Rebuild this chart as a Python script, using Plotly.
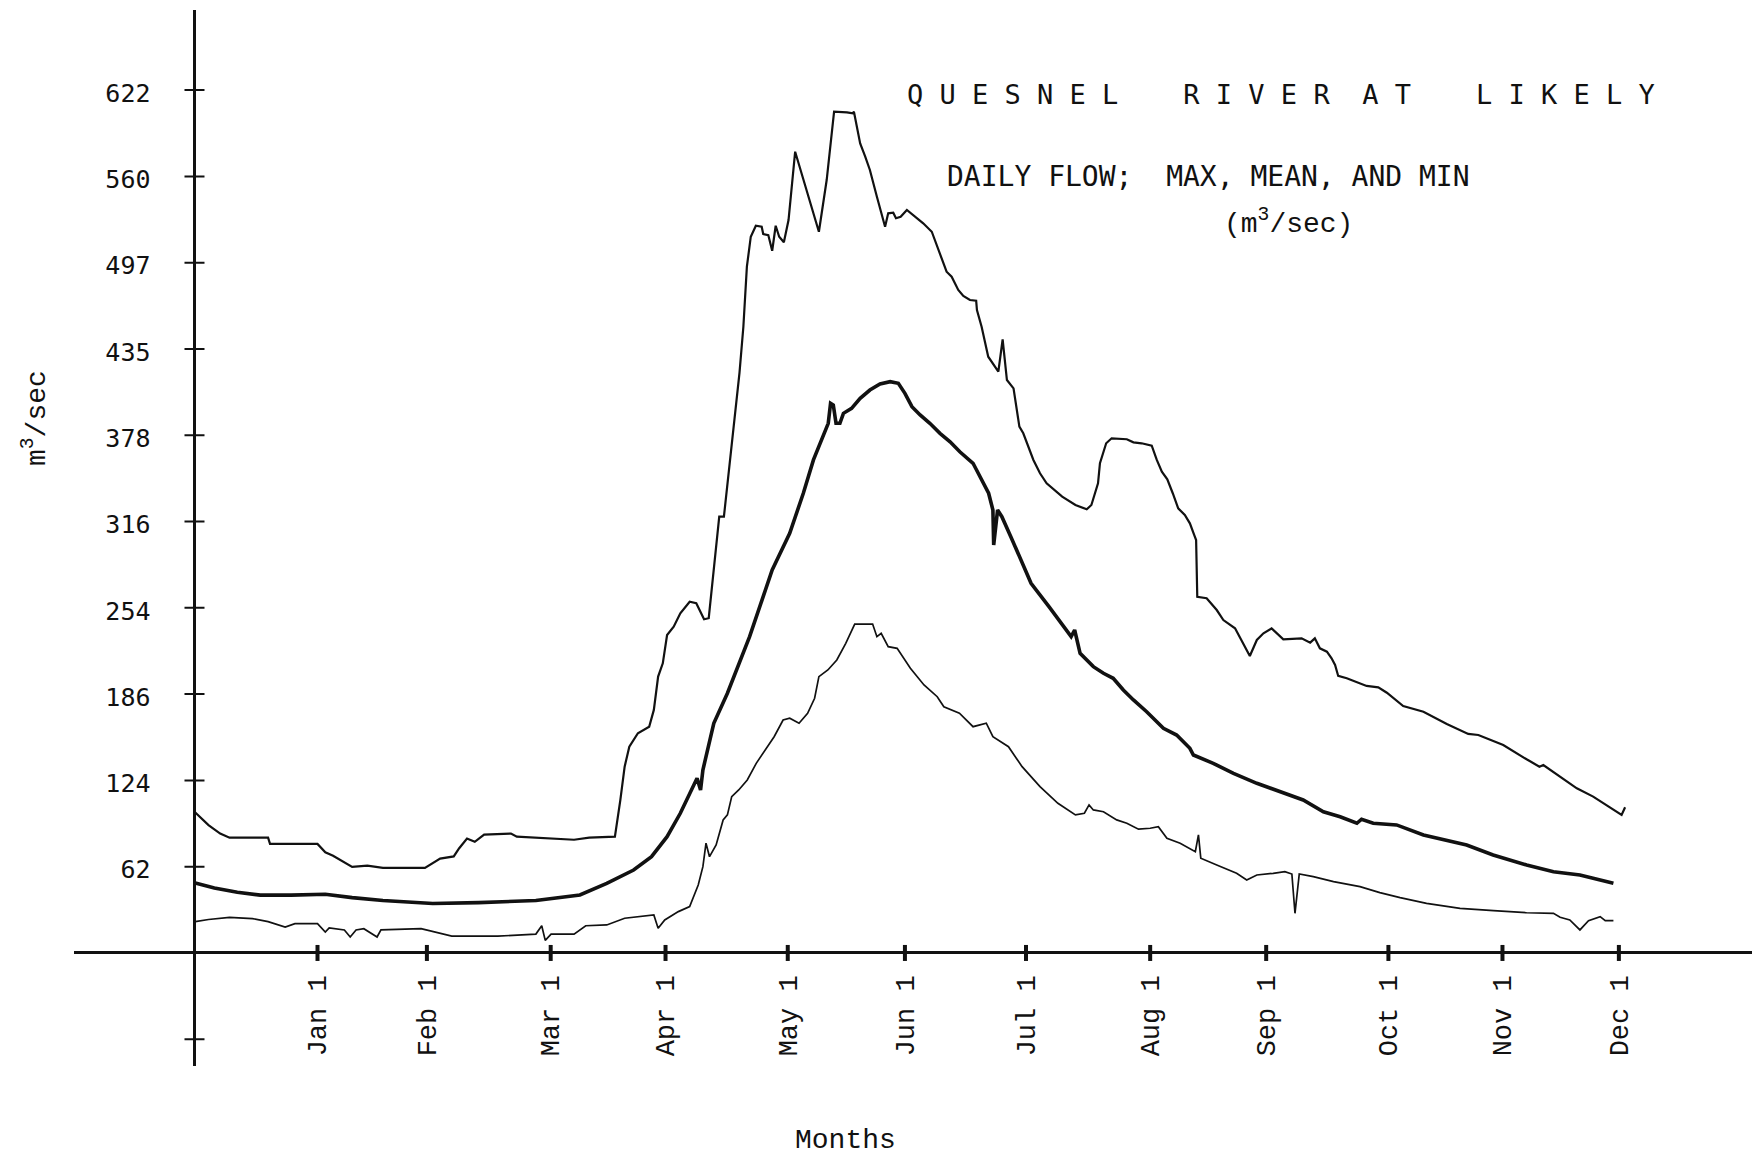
import plotly.graph_objects as go

# Daily flow of the Quesnel River at Likely (m^3/s).
# Day numbers count from the start of the record, 1 December.
max_series = [
    (0.2, 101.3), (3.6, 92.2), (6.6, 86.1), (9.0, 83.1), (18.9, 83.1), (19.4, 78.6),
    (31.6, 78.6), (33.6, 72.6), (35.6, 70.1), (38.5, 65.0), (40.5, 62.0), (44.4, 62.9),
    (48.4, 61.3), (59.2, 61.3), (63.1, 68.0), (66.6, 69.6), (68.0, 75.5), (70.0, 82.5),
    (72.0, 80.1), (74.4, 85.3), (81.3, 86.1), (82.8, 83.8), (87.7, 83.1), (97.5, 81.6),
    (101.4, 83.1), (108.0, 83.8), (109.4, 110.3), (110.5, 134.3), (111.7, 148.7),
    (113.9, 158.4), (116.8, 163.1), (118.0, 175.2), (119.1, 199.2), (120.3, 208.8),
    (121.4, 229.2), (123.1, 235.2), (124.8, 244.9), (127.2, 253.2), (128.9, 252.1),
    (130.9, 240.5), (132.1, 241.3), (133.4, 278.4), (134.8, 314.5), (136.0, 314.5),
    (136.9, 338.6), (138.3, 377.0), (140.0, 418.1), (141.0, 451.4), (141.9, 494.7),
    (142.9, 516.3), (144.2, 524.2), (145.7, 523.5), (146.1, 518.3), (147.4, 517.5),
    (148.4, 506.2), (149.3, 524.2), (150.2, 516.3), (151.4, 512.3), (152.6, 528.3),
    (154.3, 577.6), (156.4, 557.2), (158.6, 535.6), (160.4, 519.9), (162.4, 557.2),
    (164.3, 606.4), (167.6, 606.0), (169.1, 605.2), (169.4, 606.4), (171.0, 583.6),
    (172.3, 574.0), (173.5, 564.4), (175.3, 545.1), (177.4, 523.5), (178.2, 533.2),
    (179.5, 533.6), (180.2, 529.6), (181.4, 530.7), (183.0, 535.6), (184.7, 531.9),
    (187.2, 526.0), (189.4, 519.9), (191.1, 506.7), (193.2, 491.1), (194.5, 487.5),
    (196.2, 477.9), (197.5, 473.6), (199.2, 470.7), (200.8, 470.2), (201.0, 463.5),
    (202.2, 451.4), (203.9, 429.8), (206.5, 419.0), (207.6, 442.3), (208.7, 413.0),
    (210.4, 407.0), (211.9, 379.4), (212.9, 374.6), (215.5, 355.4), (217.2, 345.8),
    (218.9, 338.6), (222.9, 328.9), (226.3, 322.9), (229.2, 319.8), (230.4, 322.9),
    (232.1, 338.6), (232.6, 353.0), (234.2, 367.4), (235.6, 371.0), (239.5, 370.3),
    (241.2, 368.1), (243.3, 367.4), (245.9, 365.7), (247.2, 355.4), (248.5, 346.9),
    (249.9, 341.4), (251.3, 331.4), (252.7, 320.5), (254.4, 315.7), (255.7, 309.7),
    (256.8, 301.3), (257.3, 297.7), (257.6, 256.8), (260.0, 255.7), (262.6, 247.2),
    (264.3, 240.0), (267.3, 234.0), (271.1, 214.1), (272.9, 225.6), (274.6, 230.4),
    (276.7, 234.0), (279.7, 226.1), (284.4, 226.8), (286.6, 223.7), (287.8, 226.8),
    (289.1, 219.6), (290.9, 217.2), (292.1, 212.4), (293.0, 207.6), (293.8, 199.7),
    (296.0, 198.0), (301.1, 192.5), (304.1, 191.5), (306.3, 187.6), (310.5, 178.0),
    (315.7, 173.9), (321.7, 165.1), (327.2, 157.9), (329.8, 157.1), (336.2, 149.9),
    (342.2, 139.6), (345.5, 134.3), (346.5, 135.5), (350.8, 127.1), (355.1, 118.7),
    (359.3, 112.7), (363.6, 105.0), (366.6, 99.5), (367.5, 105.0),
]

mean_series = [
    (0.2, 50.5), (5.1, 46.9), (11.0, 43.8), (16.9, 41.7), (24.8, 41.7), (33.6, 42.3),
    (40.5, 39.9), (48.4, 37.8), (61.2, 35.7), (73.0, 36.3), (87.7, 37.8), (97.5, 40.8),
    (99.0, 41.8), (105.9, 50.2), (112.8, 59.8), (117.4, 69.4), (121.4, 83.8),
    (124.8, 100.7), (128.3, 122.3), (129.1, 125.9), (130.0, 117.5), (130.6, 131.9),
    (133.4, 165.6), (136.9, 187.2), (142.6, 228.0), (148.4, 276.1), (152.9, 302.5),
    (156.4, 331.4), (159.0, 355.4), (161.1, 369.8), (162.8, 381.8), (163.4, 396.2),
    (164.1, 395.0), (164.8, 381.8), (165.8, 381.8), (166.7, 389.0), (168.8, 392.6),
    (171.0, 399.8), (173.5, 405.8), (176.1, 410.1), (178.7, 411.8), (180.8, 410.6),
    (182.5, 403.4), (184.3, 393.8), (186.4, 387.8), (188.9, 381.8), (191.5, 374.6),
    (194.1, 368.5), (196.6, 361.3), (200.0, 353.0), (204.0, 331.4), (205.1, 319.3),
    (205.3, 294.1), (206.3, 319.3), (207.4, 314.5), (209.7, 300.1), (212.0, 285.7),
    (214.9, 266.5), (219.5, 249.6), (225.2, 228.0), (226.1, 232.8), (227.5, 216.0),
    (230.9, 206.4), (233.5, 201.6), (236.0, 198.0), (238.6, 189.6), (241.2, 182.4),
    (244.6, 173.9), (248.9, 162.0), (252.3, 157.1), (255.7, 147.5), (256.6, 142.7),
    (261.7, 136.7), (266.9, 129.5), (272.9, 122.3), (278.9, 116.3), (284.8, 110.3),
    (290.0, 101.8), (294.3, 98.2), (298.6, 93.5), (299.8, 96.4), (302.8, 93.5),
    (308.8, 92.3), (315.7, 85.1), (321.7, 81.5), (326.8, 77.8), (333.6, 70.6),
    (342.2, 63.4), (349.1, 58.6), (355.9, 56.2), (364.5, 50.2),
]

min_series = [
    (0.2, 22.6), (3.6, 24.1), (9.0, 25.7), (14.9, 24.8), (18.9, 22.6), (23.3, 18.7),
    (25.8, 21.1), (31.6, 21.1), (33.6, 15.1), (34.6, 18.1), (38.5, 16.6), (40.0, 11.5),
    (41.5, 16.6), (43.5, 17.5), (46.9, 11.5), (47.9, 16.6), (58.2, 17.5), (62.1, 15.1),
    (66.1, 12.1), (77.9, 12.1), (87.7, 13.6), (89.2, 19.6), (90.1, 9.1), (91.6, 13.6),
    (97.5, 13.6), (100.5, 19.6), (105.9, 20.2), (110.5, 25.0), (118.0, 27.4),
    (119.1, 17.8), (120.8, 23.8), (124.3, 29.8), (127.2, 33.4), (129.4, 49.0),
    (130.6, 62.2), (131.4, 79.1), (132.3, 69.4), (134.0, 77.8), (135.8, 95.9),
    (136.9, 99.5), (138.0, 112.7), (139.8, 117.5), (142.0, 124.7), (144.3, 136.7),
    (146.1, 143.9), (148.9, 155.9), (151.2, 167.9), (152.9, 169.2), (155.3, 165.6),
    (157.5, 172.8), (159.3, 183.6), (160.4, 199.2), (162.7, 204.0), (165.0, 211.2),
    (167.3, 223.2), (169.6, 237.1), (174.2, 237.1), (175.3, 228.0), (176.4, 230.4),
    (178.2, 220.8), (180.5, 219.6), (183.9, 205.2), (187.4, 193.2), (190.8, 184.7),
    (192.5, 177.5), (196.5, 172.8), (200.0, 163.1), (203.4, 165.6), (205.1, 155.9),
    (209.1, 148.7), (212.6, 134.3), (217.2, 119.9), (221.8, 107.9), (226.3, 99.5),
    (228.6, 100.7), (229.8, 106.7), (230.9, 103.1), (233.5, 101.8), (236.9, 95.9),
    (239.5, 93.5), (242.5, 89.2), (245.5, 89.9), (247.6, 91.0), (249.8, 82.7),
    (253.2, 79.1), (257.1, 73.0), (257.9, 85.1), (258.5, 68.3), (262.6, 63.4),
    (267.7, 57.4), (270.3, 52.6), (272.9, 56.2), (277.1, 57.4), (280.1, 58.6),
    (281.9, 56.9), (282.7, 28.6), (283.8, 56.9), (287.4, 55.0), (292.6, 51.4),
    (299.4, 47.8), (304.5, 43.5), (309.7, 39.9), (316.5, 35.8), (325.1, 32.2),
    (333.7, 30.5), (342.2, 29.0), (349.1, 28.6), (350.8, 25.7), (353.3, 23.8),
    (355.9, 16.6), (358.1, 23.3), (361.1, 26.2), (362.4, 23.3), (364.5, 23.3),
]

# Month ticks along the time axis (day number of each tick mark)
month_labels = ["Jan 1", "Feb 1", "Mar 1", "Apr 1", "May 1", "Jun 1",
                "Jul 1", "Aug 1", "Sep 1", "Oct 1", "Nov 1", "Dec 1"]
month_tick_day = [31.6, 59.7, 91.5, 121.0, 152.4, 182.5,
                  213.6, 245.5, 275.3, 306.7, 336.0, 365.9]

# Flow axis: evenly spaced ticks carrying the printed m^3/s labels
flow_tick_labels = ["62", "124", "186", "254", "316", "378", "435", "497", "560", "622"]
flow_step = 62.2

title_words = ["QUESNEL", "RIVER", "AT", "LIKELY"]
title_word_gaps = [4, 2, 4]
subtitle_text = "DAILY FLOW;\u00a0 MAX, MEAN, AND MIN"
units_text = "(m<sup>3</sup>/sec)"
y_title_text = "m<sup>3</sup>/sec"
x_title_text = "Months"

W, H = 1752, 1156
X_RANGE = [-31.06, 400.1]
Y_RANGE = [-81.45, 679.7]
X_DOMAIN = [0.042, 1.0]
Y_DOMAIN = [0.0779, 0.9913]

INK = "#111111"
TYPE_MONO = "Liberation Mono, Courier New, monospace"
GOTHIC = "DejaVu Sans Mono, monospace"


def unzip(series):
    return [p[0] for p in series], [p[1] for p in series]


fig = go.Figure()
for series, width in ((max_series, 2.2), (mean_series, 3.6), (min_series, 1.7)):
    xs, ys = unzip(series)
    fig.add_trace(go.Scatter(x=xs, y=ys, mode="lines",
                             line=dict(color=INK, width=width),
                             showlegend=False, hoverinfo="skip"))

# paper positions where the axes cross zero
y_axis_pos = X_DOMAIN[0] + (0 - X_RANGE[0]) / (X_RANGE[1] - X_RANGE[0]) * (X_DOMAIN[1] - X_DOMAIN[0])
x_axis_pos = Y_DOMAIN[0] + (0 - Y_RANGE[0]) / (Y_RANGE[1] - Y_RANGE[0]) * (Y_DOMAIN[1] - Y_DOMAIN[0])

flow_tickvals = [flow_step * (i + 1) for i in range(len(flow_tick_labels))]

shapes = []
# cross-shaped ticks on the flow axis (one extra below zero, unlabeled)
for v in [-flow_step] + flow_tickvals:
    shapes.append(dict(type="line", xref="x", yref="y", xsizemode="pixel", xanchor=0,
                       x0=-10, x1=10, y0=v, y1=v, line=dict(color=INK, width=2)))
# short heavy ticks on the month axis
for d in month_tick_day:
    shapes.append(dict(type="line", xref="x", yref="y", ysizemode="pixel", yanchor=0,
                       y0=-8, y1=8, x0=d, x1=d, line=dict(color=INK, width=4)))

# plotter-style letter spacing for the title
spaced_title = ""
for i, word in enumerate(title_words):
    spaced_title += "\u00a0".join(word)
    if i < len(title_word_gaps):
        spaced_title += "\u00a0" * title_word_gaps[i]

annotations = [
    dict(text=spaced_title, xref="paper", yref="paper", x=905 / W, y=1 - 94 / H,
         xanchor="left", yanchor="middle", showarrow=False,
         font=dict(family=GOTHIC, size=27, color=INK)),
    dict(text=subtitle_text, xref="paper", yref="paper", x=945 / W, y=1 - 176 / H,
         xanchor="left", yanchor="middle", showarrow=False,
         font=dict(family=GOTHIC, size=28, color=INK)),
    dict(text=units_text, xref="paper", yref="paper", x=1288 / W, y=1 - 222 / H,
         xanchor="center", yanchor="middle", showarrow=False,
         font=dict(family=TYPE_MONO, size=28, color=INK)),
    dict(text=y_title_text, xref="paper", yref="paper", x=35 / W, y=1 - 418 / H,
         xanchor="center", yanchor="middle", textangle=-90, showarrow=False,
         font=dict(family=TYPE_MONO, size=28, color=INK)),
    dict(text=x_title_text, xref="paper", yref="paper", x=845 / W, y=1 - 1140 / H,
         xanchor="center", yanchor="middle", showarrow=False,
         font=dict(family=TYPE_MONO, size=28, color=INK)),
]

fig.update_layout(
    width=W, height=H,
    margin=dict(l=0, r=0, t=0, b=0, pad=0),
    paper_bgcolor="white", plot_bgcolor="white",
    showlegend=False,
    xaxis=dict(range=X_RANGE, domain=X_DOMAIN, anchor="free", position=x_axis_pos,
               showgrid=False, showline=False, zeroline=True, zerolinecolor=INK,
               zerolinewidth=3, ticks="", tickvals=month_tick_day, ticktext=month_labels,
               tickangle=-90, ticklabelstandoff=16,
               tickfont=dict(family=TYPE_MONO, size=27, color=INK)),
    yaxis=dict(range=Y_RANGE, domain=Y_DOMAIN, anchor="free", position=y_axis_pos,
               showgrid=False, showline=False, zeroline=True, zerolinecolor=INK,
               zerolinewidth=3, ticks="", tickvals=flow_tickvals, ticktext=flow_tick_labels,
               ticklabelstandoff=44, ticklabelshift=3,
               tickfont=dict(family=GOTHIC, size=25, color=INK)),
    shapes=shapes,
    annotations=annotations,
)

fig.write_html("out.html")
